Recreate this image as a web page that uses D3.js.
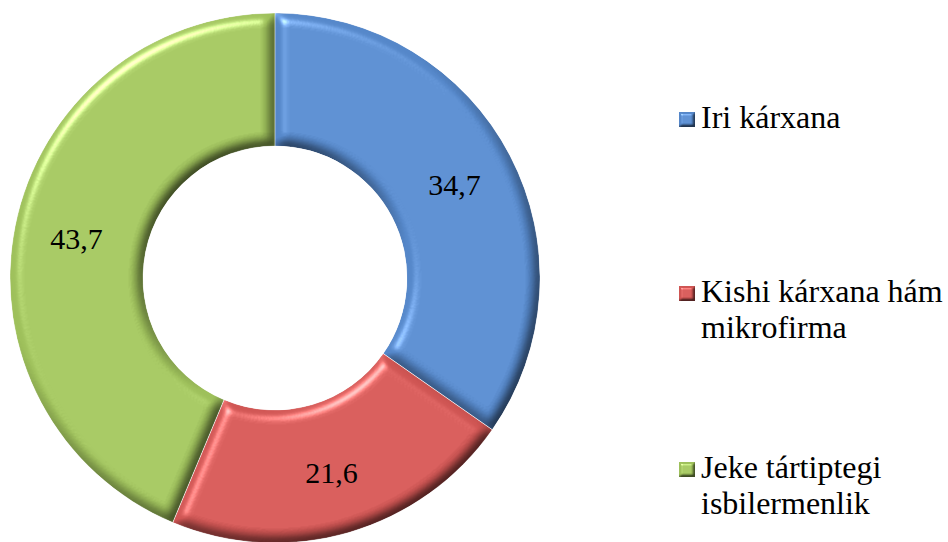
<!DOCTYPE html>
<html>
<head>
<meta charset="utf-8">
<script src="https://cdn.jsdelivr.net/npm/d3@7"></script>
<style>
  html, body { margin: 0; padding: 0; background: #fff; }
  svg { display: block; }
</style>
</head>
<body>
<svg id="chart" width="948" height="542"></svg>
<script>
var categories = ["Iri kárxana", "Kishi kárxana hám mikrofirma", "Jeke tártiptegi isbilermenlik"];
var legendLines = [["Iri kárxana"], ["Kishi kárxana hám", "mikrofirma"], ["Jeke tártiptegi", "isbilermenlik"]];
var values = [34.7, 21.6, 43.7];
var colors = ["#5587c9", "#cf5553", "#9ec05b"];

var width = 948, height = 542;
var cx = 275, cy = 278;
var outerR = 265, innerR = 132;
var fontFam = "'Liberation Serif'";

var svg = d3.select("#chart");
var defs = svg.append("defs");

// bevel look: shade edges away from the light, highlight edges towards it
var makeBevel = function(id, blur, scale) {
    var f = defs.append("filter").attr("id", id)
        .attr("color-interpolation-filters", "sRGB")
        .attr("x", "-10%").attr("y", "-10%").attr("width", "120%").attr("height", "120%");
    f.append("feGaussianBlur").attr("in", "SourceAlpha").attr("stdDeviation", blur).attr("result", "blur");
    f.append("feDiffuseLighting").attr("in", "blur").attr("surfaceScale", scale)
        .attr("diffuseConstant", 1.414).attr("lighting-color", "#fff").attr("result", "diff")
      .append("feDistantLight").attr("azimuth", 235).attr("elevation", 45);
    f.append("feSpecularLighting").attr("in", "blur").attr("surfaceScale", scale)
        .attr("specularConstant", 0.45).attr("specularExponent", 30).attr("lighting-color", "#fff").attr("result", "spec")
      .append("feDistantLight").attr("azimuth", 235).attr("elevation", 45);
    f.append("feComposite").attr("in", "SourceGraphic").attr("in2", "diff")
        .attr("operator", "arithmetic").attr("k1", 0.6).attr("k2", 0.4).attr("k3", 0).attr("k4", 0).attr("result", "shaded");
    f.append("feComposite").attr("in", "spec").attr("in2", "SourceAlpha").attr("operator", "in").attr("result", "specIn");
    f.append("feComposite").attr("in", "shaded").attr("in2", "specIn")
        .attr("operator", "arithmetic").attr("k1", 0).attr("k2", 1).attr("k3", 1).attr("k4", 0).attr("result", "lit");
    f.append("feComposite").attr("in", "lit").attr("in2", "SourceAlpha").attr("operator", "in");
};
makeBevel("bevel", 6, 7);
makeBevel("bevelSmall", 1.8, 3);

var pie = d3.pie().sort(null).value(function(d) { return d; });
var arcs = pie(values);
var arc = d3.arc().innerRadius(innerR).outerRadius(outerR);
var labelArc = d3.arc().innerRadius((innerR + outerR) / 2 + 4).outerRadius((innerR + outerR) / 2 + 4);

var g = svg.append("g").attr("transform", "translate(" + cx + "," + cy + ")");

g.selectAll("path.slice")
    .data(arcs)
    .enter().append("path")
    .attr("class", "slice")
    .attr("d", arc)
    .attr("fill", function(d, i) { return colors[i]; })
    .attr("filter", "url(#bevel)");

g.selectAll("path.edge")
    .data(arcs)
    .enter().append("path")
    .attr("class", "edge")
    .attr("d", arc)
    .attr("fill", "none")
    .attr("stroke", "#ffffff")
    .attr("stroke-opacity", 0.3)
    .attr("stroke-width", 1);

g.selectAll("text.val")
    .data(arcs)
    .enter().append("text")
    .attr("class", "val")
    .attr("transform", function(d) { return "translate(" + labelArc.centroid(d) + ")"; })
    .attr("text-anchor", "middle")
    .attr("dy", "0.35em")
    .style("font-family", fontFam)
    .style("font-size", "30px")
    .style("fill", "#000")
    .text(function(d) { return d3.format(".1f")(d.value).replace(".", ","); });

// legend
var legendY = [128, 302, 478];
var lineH = 36;
var legend = svg.append("g").attr("class", "legend");

var items = legend.selectAll("g.item")
    .data(categories)
    .enter().append("g")
    .attr("class", "item")
    .attr("transform", function(d, i) { return "translate(679," + legendY[i] + ")"; });

items.append("rect")
    .attr("x", 0).attr("y", -16)
    .attr("width", 16).attr("height", 15)
    .attr("fill", function(d, i) { return colors[i]; })
    .attr("filter", "url(#bevelSmall)");

items.append("text")
    .attr("x", 22)
    .style("font-family", fontFam)
    .style("font-size", "32px")
    .style("fill", "#000")
    .selectAll("tspan")
    .data(function(d, i) { return legendLines[i]; })
    .enter().append("tspan")
    .attr("x", 22)
    .attr("dy", function(d, j) { return j === 0 ? 0 : lineH; })
    .text(function(d) { return d; });
</script>
</body>
</html>
